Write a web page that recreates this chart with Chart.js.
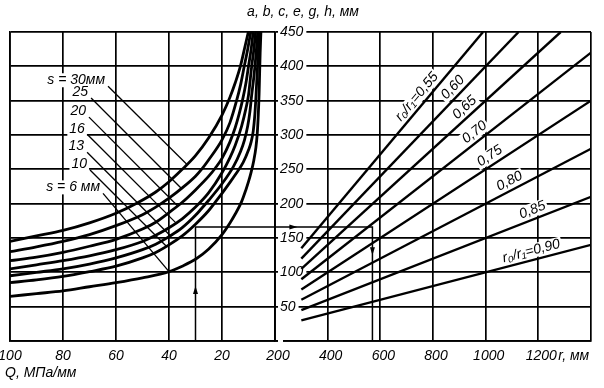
<!DOCTYPE html>
<html>
<head>
<meta charset="utf-8">
<title>nomogram</title>
<script src="https://cdn.jsdelivr.net/npm/chart.js@4.4.1/dist/chart.umd.min.js"></script>
<style>
  html, body { margin: 0; padding: 0; background: #fff; }
  body { width: 604px; height: 388px; position: relative; overflow: hidden; }
  #leftChart { position: absolute; left: -20px; top: 0; }
  #rightChart { position: absolute; left: 230px; top: 0; }
</style>
</head>
<body>
<canvas id="leftChart" width="302" height="388"></canvas>
<canvas id="rightChart" width="374" height="388"></canvas>
<script>
// left panel: h (mm) against Q (MPa/mm) for wall thickness s, points are [Q, h]
var sLabels = ['s = 30мм', '25', '20', '16', '13', '10', 's = 6 мм'];
var curveS30 = [[100,145],[90,153],[80,161],[70,172],[60,186],[52,201],[45,217],[40,232],[35,250],[30,270],[25,296],[20,329],[17,355],[15,376],[13,401],[11.5,426],[10,451]];
var curveS25 = [[100,130],[90,137],[80,145],[70,155],[60,168],[50,184],[45,195],[40,208],[35,223],[30,240],[27.5,251],[25,264],[20,293],[17,318],[14.5,350],[13,373],[11.6,400],[10.3,425],[9.1,451]];
var curveS20 = [[100,117],[90,122],[80,129],[70,138],[60,148],[50,163],[45,173],[40,187],[35,202],[30,220],[25,240],[22.5,252],[20,266],[17,290],[15,311],[13.5,331],[12.3,350],[11,375],[10,400],[9,425],[8.2,451]];
var curveS16 = [[100,105],[90,111],[80,117],[70,124],[60,133],[50,145],[45,154],[40,165],[35,178],[30,195],[25,216],[20,245],[17,267],[15,285],[12.6,313],[11,338],[10,358],[8.8,400],[8,424],[7.3,451]];
var curveS13 = [[100,95],[90,100],[80,105],[70,112],[60,121],[50,133],[45,141],[40,152],[35,165],[30,183],[27.7,193],[25,205],[20,229],[15.7,254],[13,276],[11.5,293],[10.3,313],[9.5,333],[8.8,358],[8,384],[7.5,403],[7,425],[6.5,451]];
var curveS10 = [[100,85],[90,89],[80,94],[70,101],[60,109],[50,121],[45,129],[40,140],[35,153],[30,170],[25,190],[22.6,202],[20,215],[17,231],[15,242],[12,260],[10,278],[9,290],[8.2,306],[7.6,330],[7.2,355],[6.8,385],[6.5,406],[6.2,428],[5.9,451]];
var curveS6 = [[100,65],[90,69],[80,73],[70,79],[60,85],[50,92],[40,101],[35,109],[30,119],[25,134],[20,155],[17,172],[15,185],[12.6,203],[11,220],[10,232],[9,246],[8,263],[7.2,282],[6.7,302],[6.3,330],[6,360],[5.8,390],[5.6,420],[5.3,451]];
var sCurves = [curveS30, curveS25, curveS20, curveS16, curveS13, curveS10, curveS6];

// leader lines from each s label to its curve, [Q, h]
var leaderStart = [[63,371],[69.4,354],[70.2,326],[70.6,300],[70.9,275],[69.8,249],[64.9,215]];
var leaderEnd = [[33.2,257],[35.3,222],[36.8,197],[37.4,172],[39.4,153],[41,138],[40,101]];

// right panel: h (mm) against r (mm) for r0/r1, points are [r, h]
var ratioLabels = ['r₀/r₁=0,55', '0,60', '0,65', '0,70', '0,75', '0,80', '0,85', 'r₀/r₁=0,90'];
var ratioStart = [[300,135],[300,120],[300,105],[300,90],[300,75],[300,60],[300,45],[300,30]];
var ratioEnd = [[990,450],[1125,450],[1285,450],[1400,420],[1400,350],[1400,280],[1400,210],[1400,140]];
var ratioLabelR = [765, 900, 943, 979, 1034, 1106, 1190, 1182];

// tick labels
var qTicks = [100, 80, 60, 40, 20];
var rTicks = [200, 400, 600, 800, 1000, 1200];
var hTicks = [50, 100, 150, 200, 250, 300, 350, 400, 450];

// worked example: Q -> h -> r
var exampleQ = 30, exampleH = 166, exampleR = 570;

(function() {
  var INK = '#000',
      FONT = 'italic 14px "Liberation Sans", "DejaVu Sans", sans-serif',
      TICK_FONT = { family: '"Liberation Sans", "DejaVu Sans", sans-serif', size: 14, style: 'italic' },
      GRID = { color: INK, lineWidth: 1.7, drawTicks: false },
      BORDER = { color: INK, width: 1.7 };

  function toXY(list) {
    return list.map(function(p) { return { x: p[0], y: p[1] }; });
  }

  function lineSet(points, width, smooth) {
    return {
      data: toXY(points),
      showLine: true,
      borderColor: INK,
      borderWidth: width,
      pointRadius: 0,
      fill: false,
      cubicInterpolationMode: smooth ? 'monotone' : 'default'
    };
  }

  function textBox(ctx, txt, x, y, angle, align) {
    ctx.save();
    ctx.translate(x, y);
    ctx.rotate(angle || 0);
    ctx.font = FONT;
    ctx.textAlign = align || 'center';
    ctx.textBaseline = 'middle';
    var w = ctx.measureText(txt).width;
    var x0 = align === 'right' ? -w : (align === 'left' ? 0 : -w / 2);
    ctx.fillStyle = '#fff';
    ctx.fillRect(x0 - 2, -7, w + 4, 14);
    ctx.fillStyle = INK;
    ctx.fillText(txt, 0, 0);
    ctx.restore();
  }

  function plainText(ctx, txt, x, y, align) {
    ctx.save();
    ctx.font = FONT;
    ctx.fillStyle = INK;
    ctx.textAlign = align || 'left';
    ctx.textBaseline = 'middle';
    ctx.fillText(txt, x, y);
    ctx.restore();
  }

  function arrowHead(ctx, x, y, angle) {
    ctx.save();
    ctx.translate(x, y);
    ctx.rotate(angle);
    ctx.beginPath();
    ctx.moveTo(0, 0);
    ctx.lineTo(-8, -2.5);
    ctx.lineTo(-8, 2.5);
    ctx.closePath();
    ctx.fillStyle = INK;
    ctx.fill();
    ctx.restore();
  }

  function tickFilter(list) {
    return function(v) { return list.indexOf(v) >= 0 ? String(v) : ''; };
  }

  var leftDecor = {
    id: 'leftDecor',
    beforeDatasetsDraw: function(chart) {
      var ctx = chart.ctx, xs = chart.scales.x, ys = chart.scales.y;
      sLabels.forEach(function(lbl, i) {
        var px = xs.getPixelForValue(leaderStart[i][0]),
            py = ys.getPixelForValue(leaderStart[i][1]);
        textBox(ctx, lbl, px - 3, py - 6, 0, 'right');
      });
    },
    afterDatasetsDraw: function(chart) {
      var ctx = chart.ctx, xs = chart.scales.x, ys = chart.scales.y;
      arrowHead(ctx, xs.getPixelForValue(exampleQ), ys.getPixelForValue(80), -Math.PI / 2);
      plainText(ctx, 'Q, МПа/мм', chart.chartArea.left - 5, chart.chartArea.bottom + 32, 'left');
    }
  };

  var rightDecor = {
    id: 'rightDecor',
    beforeDatasetsDraw: function(chart) {
      var ctx = chart.ctx, xs = chart.scales.x, ys = chart.scales.y;
      ratioLabels.forEach(function(lbl, i) {
        var a = ratioStart[i], b = ratioEnd[i];
        var x1 = xs.getPixelForValue(a[0]), y1 = ys.getPixelForValue(a[1]),
            x2 = xs.getPixelForValue(b[0]), y2 = ys.getPixelForValue(b[1]);
        var t = (ratioLabelR[i] - a[0]) / (b[0] - a[0]);
        var fx = x1 + t * (x2 - x1), fy = y1 + t * (y2 - y1);
        var len = Math.hypot(x2 - x1, y2 - y1),
            ux = (x2 - x1) / len, uy = (y2 - y1) / len;
        textBox(ctx, lbl, fx + uy * 9, fy - ux * 9, Math.atan2(uy, ux), 'center');
      });
    },
    afterDatasetsDraw: function(chart) {
      var ctx = chart.ctx, xs = chart.scales.x, ys = chart.scales.y, area = chart.chartArea;
      arrowHead(ctx, xs.getPixelForValue(285), ys.getPixelForValue(exampleH), 0);
      arrowHead(ctx, xs.getPixelForValue(exampleR), ys.getPixelForValue(125), Math.PI / 2);
      plainText(ctx, 'r, мм', xs.getPixelForValue(1200) + 20, area.bottom + 15, 'left');
      plainText(ctx, 'a, b, c, e, g, h, мм', area.left + 28, 12, 'center');
    }
  };

  function drawLeftChart() {
    var sets = [];
    sCurves.forEach(function(c) { sets.push(lineSet(c, 2.8, true)); });
    leaderStart.forEach(function(p, i) { sets.push(lineSet([p, leaderEnd[i]], 1.3, false)); });
    sets.push(lineSet([[exampleQ, 0], [exampleQ, exampleH], [0, exampleH]], 1.5, false));

    new Chart(document.getElementById('leftChart'), {
      type: 'scatter',
      data: { datasets: sets },
      options: {
        responsive: false,
        animation: false,
        events: [],
        layout: { padding: { left: 30, right: 7, top: 32, bottom: 25 } },
        plugins: { legend: { display: false }, tooltip: { enabled: false } },
        scales: {
          x: {
            type: 'linear', reverse: true, min: 0, max: 100,
            ticks: { stepSize: 20, padding: 7, color: INK, font: TICK_FONT, maxRotation: 0, autoSkip: false,
              callback: tickFilter(qTicks) },
            grid: GRID, border: BORDER,
            afterFit: function(s) { s.height = 22; }
          },
          y: {
            min: 0, max: 450,
            ticks: { stepSize: 50, display: false },
            grid: GRID, border: BORDER,
            afterFit: function(s) { s.width = 0; }
          }
        }
      },
      plugins: [leftDecor]
    });
  }

  function drawRightChart() {
    var sets = [];
    ratioStart.forEach(function(p, i) { sets.push(lineSet([p, ratioEnd[i]], 2.4, false)); });
    sets.push(lineSet([[200, exampleH], [exampleR, exampleH], [exampleR, 0]], 1.5, false));

    new Chart(document.getElementById('rightChart'), {
      type: 'scatter',
      data: { datasets: sets },
      options: {
        responsive: false,
        animation: false,
        events: [],
        layout: { padding: { left: 45, right: 13, top: 32, bottom: 25 } },
        plugins: { legend: { display: false }, tooltip: { enabled: false } },
        scales: {
          x: {
            type: 'linear', min: 200, max: 1400,
            ticks: { stepSize: 200, padding: 7, labelOffset: 3, color: INK, font: TICK_FONT, maxRotation: 0, autoSkip: false,
              callback: tickFilter(rTicks) },
            grid: GRID, border: BORDER,
            afterFit: function(s) { s.height = 22; }
          },
          y: {
            position: 'left', min: 0, max: 450,
            ticks: { stepSize: 50, mirror: true, padding: 5, color: INK, font: TICK_FONT,
              showLabelBackdrop: true, backdropColor: '#fff', backdropPadding: { left: 2, right: 3, top: 0, bottom: 0 },
              callback: tickFilter(hTicks) },
            grid: GRID, border: BORDER,
            afterFit: function(s) { s.width = 0; }
          }
        }
      },
      plugins: [rightDecor]
    });
  }

  drawLeftChart();
  drawRightChart();
})();
</script>
</body>
</html>
